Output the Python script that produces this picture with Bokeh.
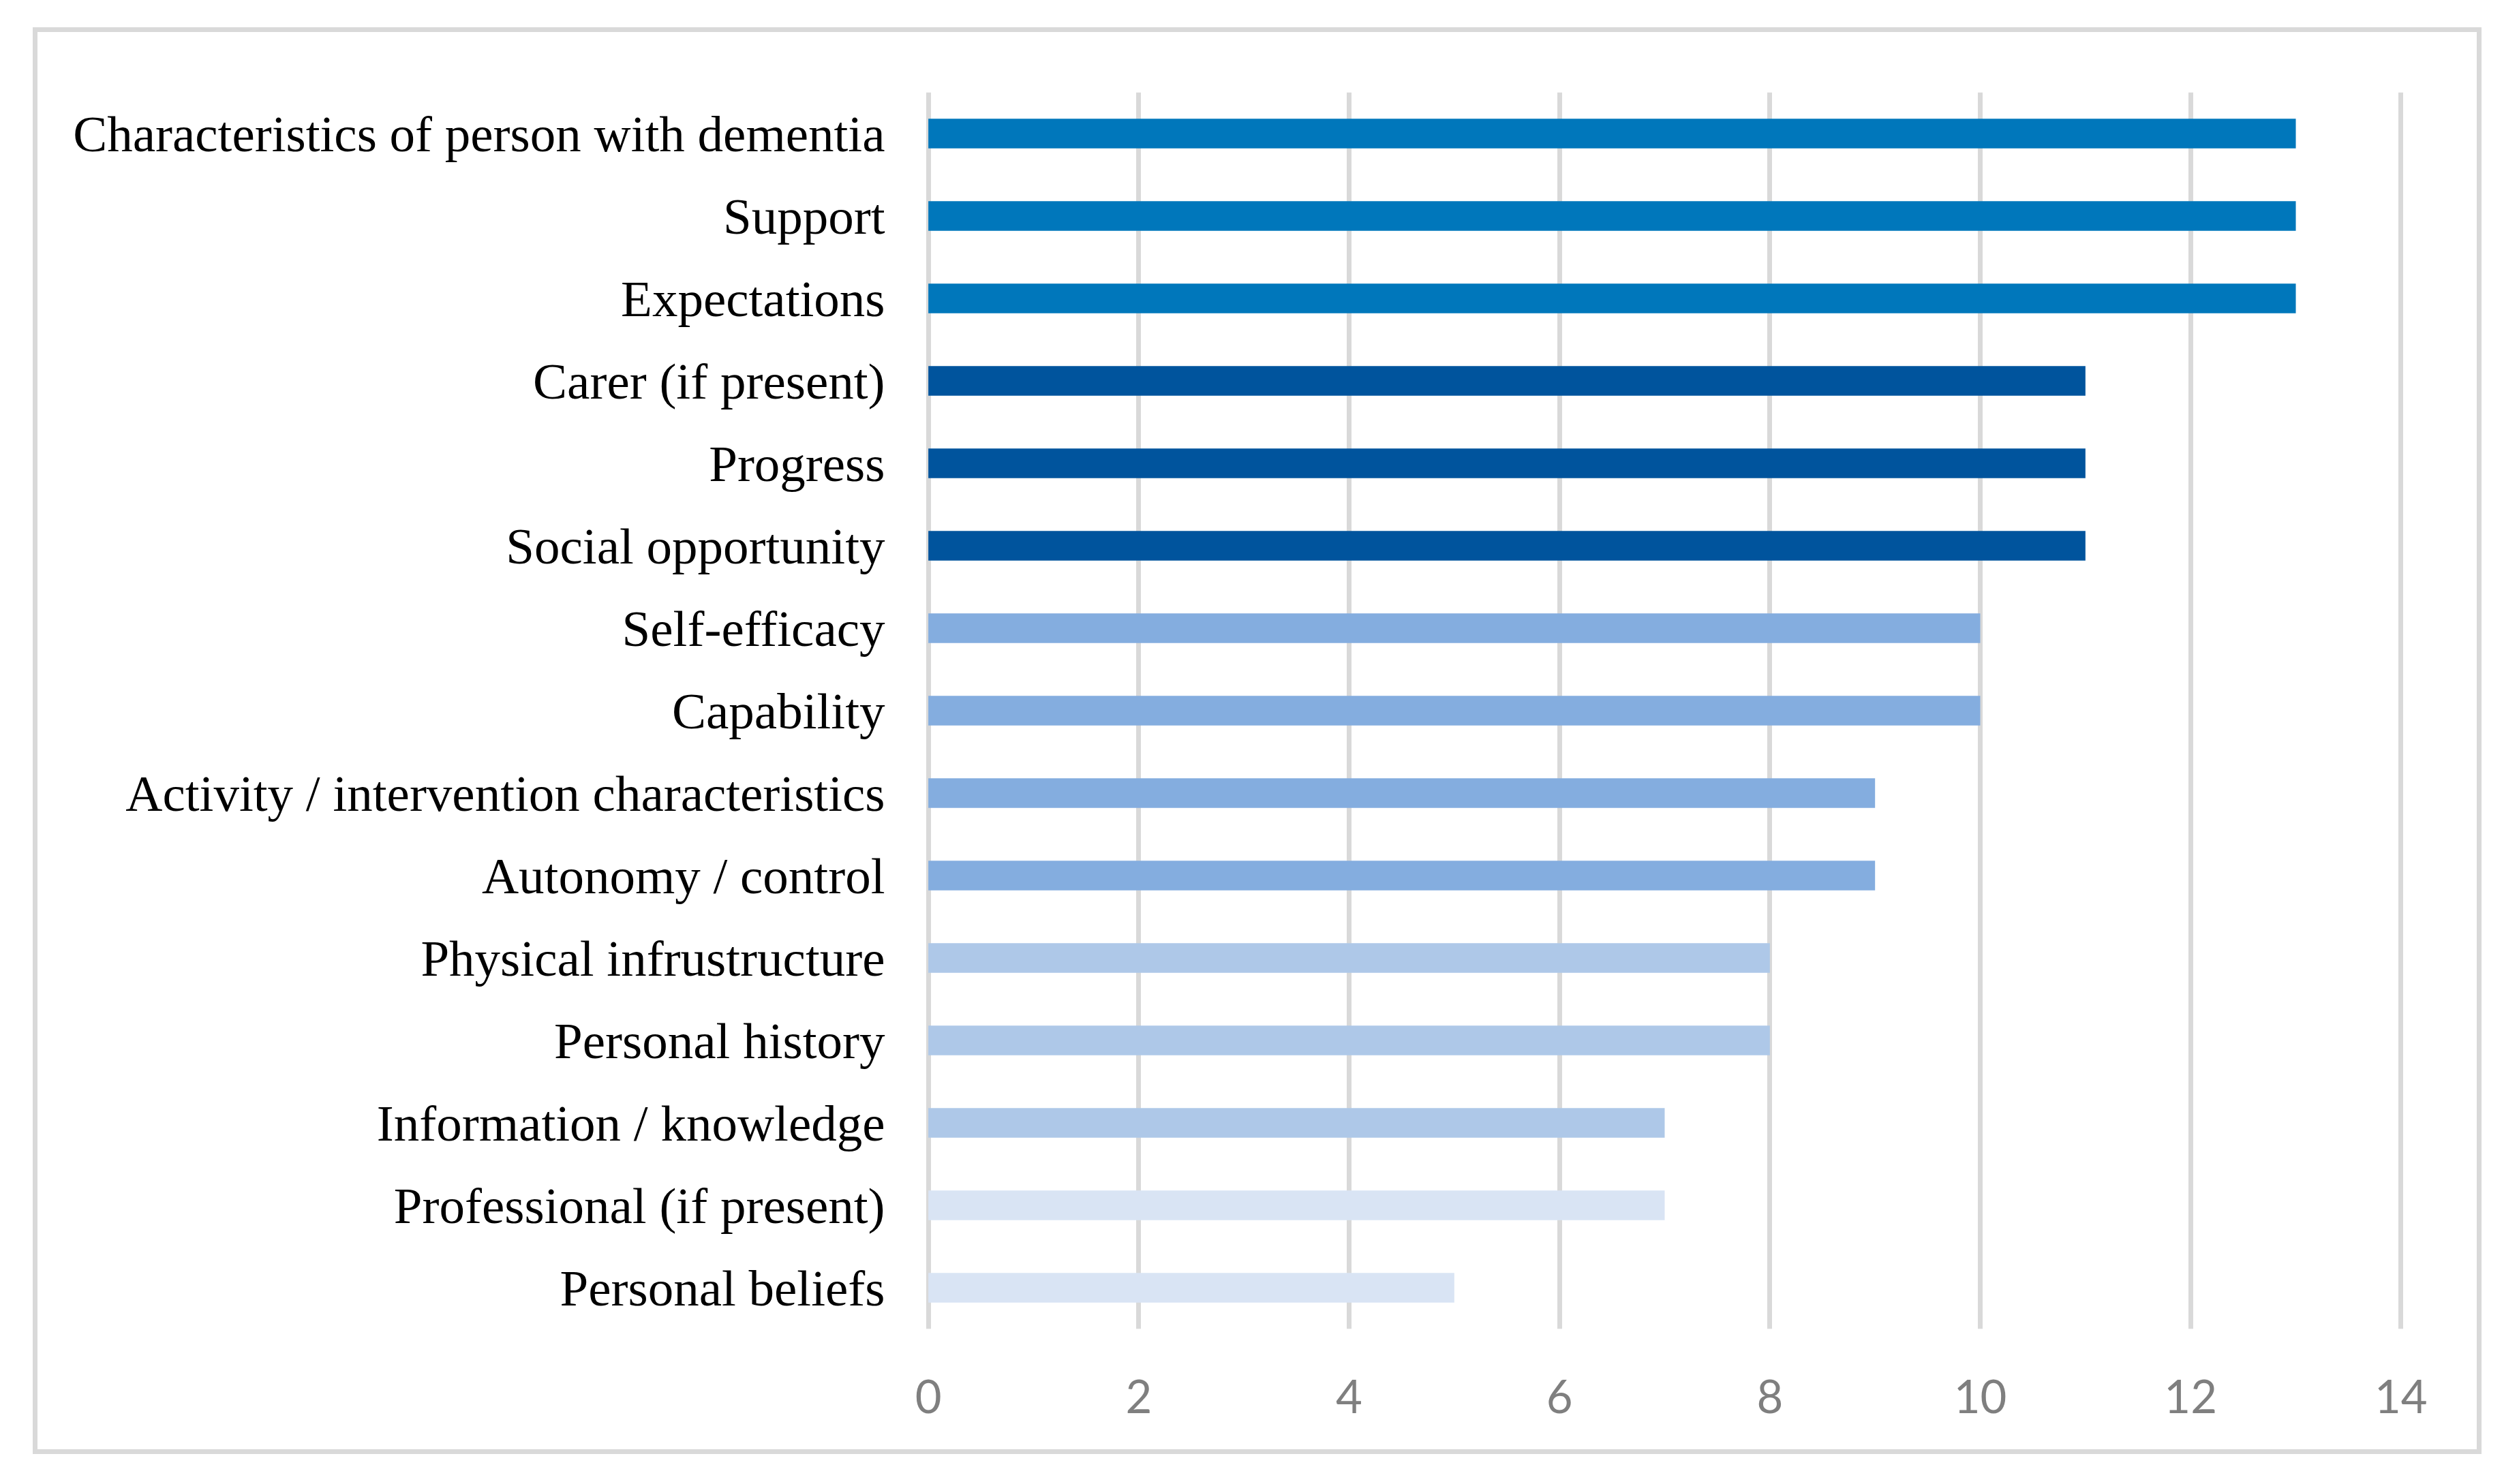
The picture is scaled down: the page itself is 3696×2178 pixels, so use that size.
from bokeh.plotting import figure
from bokeh.models import Range1d, FactorRange, ColumnDataSource, FixedTicker
from bokeh.embed import file_html
from bokeh.resources import INLINE

categories = [
    "Characteristics of person with dementia",
    "Support",
    "Expectations",
    "Carer (if present)",
    "Progress",
    "Social opportunity",
    "Self-efficacy",
    "Capability",
    "Activity / intervention characteristics",
    "Autonomy / control",
    "Physical infrustructure",
    "Personal history",
    "Information / knowledge",
    "Professional (if present)",
    "Personal beliefs",
]
values = [13, 13, 13, 11, 11, 11, 10, 10, 9, 9, 8, 8, 7, 7, 5]
bar_colors = [
    "#0077BB", "#0077BB", "#0077BB",
    "#00549D", "#00549D", "#00549D",
    "#84ADDF", "#84ADDF", "#84ADDF", "#84ADDF",
    "#AEC8E8", "#AEC8E8", "#AEC8E8",
    "#D9E4F4", "#D9E4F4",
]
x_ticks = [0, 2, 4, 6, 8, 10, 12, 14]

W, H = 3593, 2094
frame_left, frame_w = 1302, 2170
frame_top, frame_h = 88, 1815

src = ColumnDataSource(data=dict(cat=categories, val=values, color=bar_colors))

p = figure(
    width=W, height=H,
    y_range=FactorRange(factors=list(reversed(categories)), range_padding=0),
    x_range=Range1d(-0.03, 14.03),
    output_backend="svg", toolbar_location=None,
    min_border_left=frame_left, min_border_right=W - frame_left - frame_w,
    min_border_top=frame_top, min_border_bottom=H - frame_top - frame_h,
)
p.margin = (40, 0, 0, 48)
p.styles = {"border": "7px solid #D9D9D9"}
p.outline_line_color = None
p.background_fill_color = "white"
p.border_fill_color = "white"

p.hbar(y="cat", right="val", left=0, height=0.36, color="color", line_color=None, source=src)

p.ygrid.grid_line_color = None
p.xgrid.grid_line_color = "#D9D9D9"
p.xgrid.grid_line_width = 7
p.xgrid.ticker = FixedTicker(ticks=x_ticks)

p.xaxis.ticker = FixedTicker(ticks=x_ticks)
p.xaxis.axis_line_color = None
p.xaxis.major_tick_line_color = None
p.xaxis.minor_tick_line_color = None
p.xaxis.major_tick_out = 0
p.xaxis.major_label_standoff = 74
p.xaxis.major_label_text_font = "Lato"
p.xaxis.major_label_text_font_size = "67px"
p.xaxis.major_label_text_color = "#7F7F7F"

p.yaxis.axis_line_color = None
p.yaxis.major_tick_line_color = None
p.yaxis.major_tick_out = 0
p.yaxis.major_label_standoff = 59
p.yaxis.major_label_text_font = "Liberation Serif"
p.yaxis.major_label_text_font_size = "75px"
p.yaxis.major_label_text_color = "#000000"

open("out.html", "w").write(file_html(p, INLINE))
